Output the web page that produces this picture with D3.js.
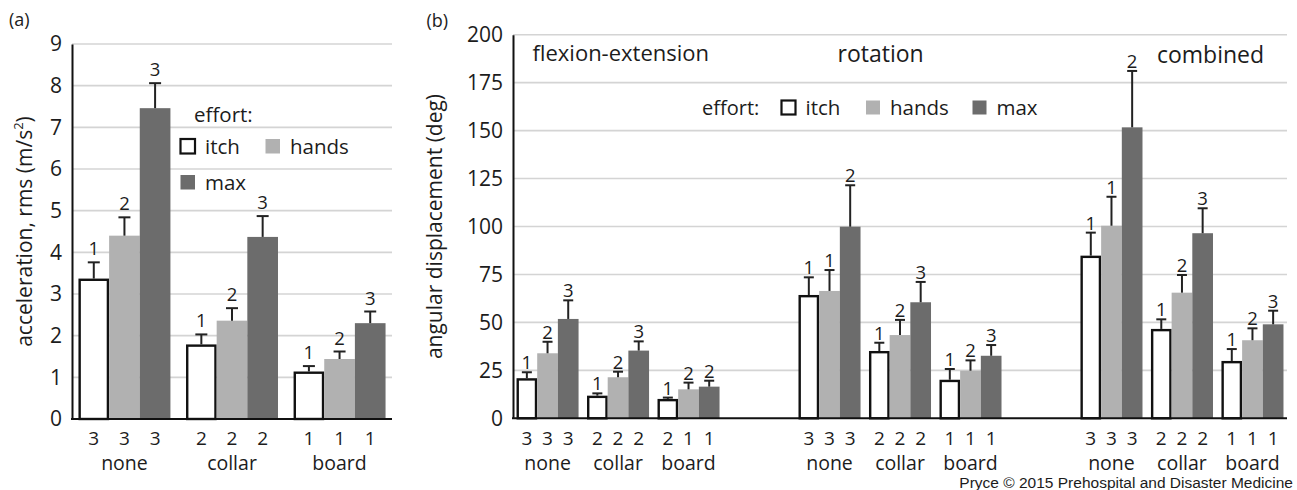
<!DOCTYPE html>
<html><head><meta charset="utf-8">
<script src="https://cdn.jsdelivr.net/npm/d3@7"></script>
<style>
body{margin:0;background:#fff}
text{font-family:"Open Sans",sans-serif;fill:#1c1c1c}
</style>
</head><body>
<svg id="c" width="1297" height="490"></svg>
<script>
// ---------- data ----------
const efforts = ["itch", "hands", "max"];
const devices = ["none", "collar", "board"];
const motions = ["flexion-extension", "rotation", "combined"];

// (a) acceleration, rms (m/s^2)
const accelTicks = [0, 1, 2, 3, 4, 5, 6, 7, 8, 9];
const accelMean = [[3.37, 4.40, 7.46], [1.79, 2.36, 4.37], [1.14, 1.44, 2.30]];
const accelErr  = [[0.39, 0.44, 0.60], [0.24, 0.30, 0.50], [0.13, 0.18, 0.28]];
const accelSig  = [[1, 2, 3], [1, 2, 3], [1, 2, 3]];
const accelN    = [[3, 3, 3], [2, 2, 2], [1, 1, 1]];

// (b) angular displacement (deg)
const angTicks = [0, 25, 50, 75, 100, 125, 150, 175, 200];
const flexMean = [[20.9, 33.9, 51.8], [11.8, 21.4, 35.3], [10.1, 15.1, 16.5]];
const flexErr  = [[3.1, 6.0, 9.7], [1.2, 2.9, 4.8], [0.7, 3.5, 3.1]];
const flexSig  = [[1, 2, 3], [1, 2, 3], [1, 2, 2]];
const flexN    = [[3, 3, 3], [2, 2, 2], [2, 1, 1]];
const rotMean  = [[64.3, 66.4, 99.9], [35.1, 43.4, 60.5], [20.1, 24.8, 32.6]];
const rotErr   = [[9.2, 10.9, 21.6], [4.3, 7.9, 10.6], [5.6, 5.4, 5.6]];
const rotSig   = [[1, 1, 2], [1, 2, 3], [1, 2, 3]];
const rotN     = [[3, 3, 3], [2, 2, 2], [1, 1, 1]];
const combMean = [[84.8, 100.4, 151.7], [46.6, 65.5, 96.5], [29.9, 40.7, 49.0]];
const combErr  = [[12.0, 15.1, 29.4], [5.0, 9.2, 13.0], [6.2, 6.2, 7.1]];
const combSig  = [[1, 1, 2], [1, 2, 3], [1, 2, 3]];
const combN    = [[3, 3, 3], [2, 2, 2], [1, 1, 1]];

// ---------- styles ----------
const fills = {itch: "#ffffff", hands: "#b1b1b1", max: "#6c6c6c"};
const svg = d3.select("#c");

function buildRows(prefix, mean, err, sig, n) {
  return devices.map((d, di) => ({
    key: prefix + "|" + d, device: d,
    bars: efforts.map((e, ei) => ({effort: e, mean: mean[di][ei], err: err[di][ei], sig: sig[di][ei], n: n[di][ei]}))
  }));
}

function drawPanel(o) {
  const {x0, y, rows, ticks, left, right, sigGap, capW} = o;
  const x1 = d3.scaleBand().domain(efforts).range([0, x0.bandwidth()]);
  const g = svg.append("g");

  // grid
  g.selectAll("line.grid").data(ticks.filter(t => t > 0)).join("line")
    .attr("class", "grid")
    .attr("x1", left).attr("x2", right)
    .attr("y1", d => y(d)).attr("y2", d => y(d))
    .attr("stroke", "#d4d4d4").attr("stroke-width", 1.6);

  // y axis
  const ax = g.append("g").attr("transform", `translate(${left},0)`)
    .call(d3.axisLeft(y).tickValues(ticks).tickSize(0).tickPadding(10).tickFormat(d3.format("d")));
  ax.select(".domain").attr("stroke", "#111").attr("stroke-width", 2);
  ax.selectAll("text").attr("font-size", 21).attr("font-family", "Open Sans").attr("fill", "#1c1c1c");

  const flat = rows.flatMap(r => r.bars.map(b => Object.assign({key: r.key}, b)));
  const bx = d => x0(d.key) + x1(d.effort);
  const bw = x1.bandwidth();

  // bars
  g.selectAll("rect.bar").data(flat).join("rect")
    .attr("class", "bar")
    .attr("x", d => bx(d) + (d.effort === "itch" ? 1.2 : 0))
    .attr("width", d => bw - (d.effort === "itch" ? 2.4 : 0))
    .attr("y", d => y(d.mean) + (d.effort === "itch" ? 1.2 : 0))
    .attr("height", d => y(0) - y(d.mean) - (d.effort === "itch" ? 1.2 : 0))
    .attr("fill", d => fills[d.effort])
    .attr("stroke", d => d.effort === "itch" ? "#111" : "none")
    .attr("stroke-width", 2.4);

  // error bars
  g.selectAll("line.err").data(flat).join("line")
    .attr("class", "err")
    .attr("x1", d => bx(d) + bw / 2).attr("x2", d => bx(d) + bw / 2)
    .attr("y1", d => y(d.mean)).attr("y2", d => y(d.mean + d.err))
    .attr("stroke", "#222").attr("stroke-width", 2);
  g.selectAll("line.cap").data(flat).join("line")
    .attr("class", "cap")
    .attr("x1", d => bx(d) + bw / 2 - capW / 2).attr("x2", d => bx(d) + bw / 2 + capW / 2)
    .attr("y1", d => y(d.mean + d.err)).attr("y2", d => y(d.mean + d.err))
    .attr("stroke", "#222").attr("stroke-width", 2);

  // significance labels
  g.selectAll("text.sig").data(flat).join("text")
    .attr("class", "sig")
    .attr("x", d => bx(d) + bw / 2)
    .attr("y", d => y(d.mean + d.err) - sigGap)
    .attr("text-anchor", "middle").attr("font-size", 18.5)
    .text(d => d.sig);

  // n labels under bars
  g.selectAll("text.n").data(flat).join("text")
    .attr("class", "n")
    .attr("x", d => bx(d) + bw / 2).attr("y", 445)
    .attr("text-anchor", "middle").attr("font-size", 19)
    .text(d => d.n);

  // device labels
  g.selectAll("text.dev").data(rows).join("text")
    .attr("class", "dev")
    .attr("x", d => x0(d.key) + x0.bandwidth() / 2).attr("y", 470)
    .attr("text-anchor", "middle").attr("font-size", 19.5)
    .text(d => d.device);

  // baseline
  g.append("line").attr("x1", left - 1).attr("x2", right)
    .attr("y1", y(0)).attr("y2", y(0))
    .attr("stroke", "#111").attr("stroke-width", 2);
  return g;
}

function legendItem(g, x, yBase, effort, label, size) {
  g.append("rect").attr("x", x).attr("y", yBase - size - 0.5).attr("width", size).attr("height", size)
    .attr("fill", fills[effort])
    .attr("stroke", effort === "itch" ? "#111" : "none").attr("stroke-width", 2.2);
  g.append("text").attr("x", x + size + 10).attr("y", yBase).attr("font-size", 20.5).text(label);
}

// ---------- panel (a) ----------
const aLeft = 72, aRight = 392;
const yA = d3.scaleLinear().domain([0, 9]).range([419, 44]);
const xA = d3.scaleBand().domain(devices.map(d => "a|" + d)).range([aLeft, aRight])
  .paddingInner(0.145).paddingOuter(0.06);
const gA = drawPanel({x0: xA, y: yA, rows: buildRows("a", accelMean, accelErr, accelSig, accelN),
  ticks: accelTicks, left: aLeft, right: aRight, sigGap: 7, capW: 12});

svg.append("text").attr("x", 9).attr("y", 26).attr("font-size", 18).text("(a)");
svg.append("text").attr("transform", `translate(31.5,${(yA(0) + yA(9)) / 2}) rotate(-90)`)
  .attr("text-anchor", "middle").attr("font-size", 21)
  .html('acceleration, rms (m/s<tspan baseline-shift="super" font-size="13">2</tspan>)');

const legA = svg.append("g");
legA.append("text").attr("x", 194).attr("y", 121.5).attr("font-size", 20.5).text("effort:");
legendItem(legA, 180.5, 154, "itch", "itch", 14.5);
legendItem(legA, 265.5, 154, "hands", "hands", 14.5);
legendItem(legA, 180.5, 190, "max", "max", 14.5);

// ---------- panel (b) ----------
const bLeft = 513, bRight = 1287;
const yB = d3.scaleLinear().domain([0, 200]).range([418.3, 34.7]);
const bKeys = motions.flatMap((m, mi) => devices.map(d => m + "|" + d).concat(mi < motions.length - 1 ? ["gap" + mi] : []));
const xB = d3.scaleBand().domain(bKeys).range([bLeft, bRight]).paddingInner(0.12).paddingOuter(0.05);
const rowsB = buildRows(motions[0], flexMean, flexErr, flexSig, flexN)
  .concat(buildRows(motions[1], rotMean, rotErr, rotSig, rotN))
  .concat(buildRows(motions[2], combMean, combErr, combSig, combN));
drawPanel({x0: xB, y: yB, rows: rowsB, ticks: angTicks, left: bLeft, right: bRight, sigGap: 3, capW: 10});

svg.append("text").attr("x", 426.5).attr("y", 27).attr("font-size", 18).text("(b)");
svg.append("text").attr("transform", `translate(442,${(yB(0) + yB(200)) / 2}) rotate(-90)`)
  .attr("text-anchor", "middle").attr("font-size", 21).text("angular displacement (deg)");

// section titles
svg.append("text").attr("x", xB(motions[0] + "|none") + 16).attr("y", 61).attr("font-size", 22).text(motions[0]);
svg.append("text").attr("x", xB(motions[1] + "|none") + 39).attr("y", 61.5).attr("font-size", 23).text(motions[1]);
svg.append("text").attr("x", xB(motions[2] + "|collar") + 6).attr("y", 63).attr("font-size", 23).text(motions[2]);

const legB = svg.append("g");
legB.append("text").attr("x", 702).attr("y", 115).attr("font-size", 20).text("effort:");
legendItem(legB, 781.5, 115, "itch", "itch", 14);
legendItem(legB, 866, 115, "hands", "hands", 14);
legendItem(legB, 972.5, 115, "max", "max", 14);

// credit
svg.append("text").attr("x", 1293).attr("y", 488).attr("text-anchor", "end")
  .style("font-family", "'Liberation Sans', Arial, sans-serif")
  .attr("font-size", 15.5).text("Pryce © 2015 Prehospital and Disaster Medicine");
</script>
</body></html>
